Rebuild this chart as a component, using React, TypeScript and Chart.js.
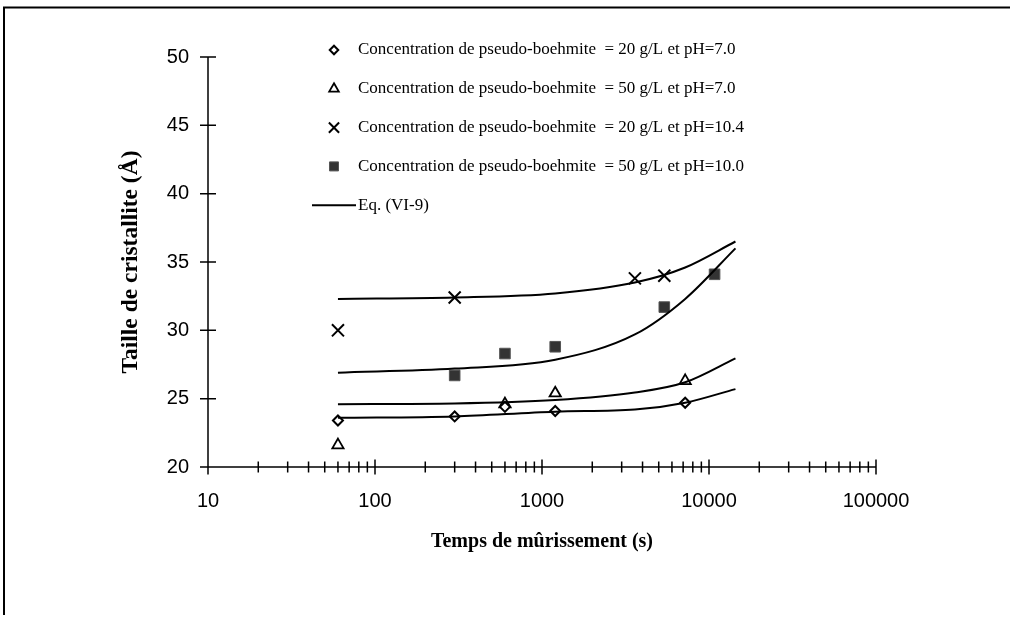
import React, { useEffect, useRef } from 'react';
import { Chart, registerables } from 'chart.js';
import { drawPoint } from 'chart.js/helpers';
Chart.register(...registerables);

const seriesLabels = [
  'Concentration de pseudo-boehmite  = 20 g/L et pH=7.0',
  'Concentration de pseudo-boehmite  = 50 g/L et pH=7.0',
  'Concentration de pseudo-boehmite  = 20 g/L et pH=10.4',
  'Concentration de pseudo-boehmite  = 50 g/L et pH=10.0',
];
const fitLabel = 'Eq. (VI-9)';
const xTitle = 'Temps de mûrissement (s)';
const yTitle = 'Taille de cristallite (Å)';

// measured points (time in s, size in Å)
const t20pH7 = [60, 300, 600, 1200, 7200];
const d20pH7 = [23.4, 23.7, 24.4, 24.1, 24.7];
const t50pH7 = [60, 600, 1200, 7200];
const d50pH7 = [21.6, 24.6, 25.4, 26.3];
const t20pH104 = [60, 300, 3600, 5400];
const d20pH104 = [30.0, 32.4, 33.8, 34.0];
const t50pH10 = [300, 600, 1200, 5400, 10800];
const d50pH10 = [26.7, 28.3, 28.8, 31.7, 34.1];

// Eq. (VI-9) curves
const fitTimes = [60, 300, 1200, 3600, 7200, 14400];
const fit20pH7 = [23.6, 23.7, 24.05, 24.2, 24.7, 25.7];
const fit50pH7 = [24.6, 24.65, 24.9, 25.45, 26.2, 27.95];
const fit20pH104 = [32.3, 32.4, 32.7, 33.5, 34.6, 36.5];
const fit50pH10 = [26.9, 27.2, 27.85, 29.7, 32.3, 36.0];

const xTickValues = [10, 100, 1000, 10000, 100000];
const xMinorMultipliers = [2, 3, 4, 5, 6, 7, 8, 9];
const yMin = 20;
const yMax = 50;
const yStep = 5;

const pts = (xs: number[], ys: number[]) => xs.map((x, i) => ({ x, y: ys[i] }));

const markerStyles = [
  { pointStyle: 'rectRot', radius: 5, borderWidth: 2, fill: '#ffffff', stroke: '#000000' },
  { pointStyle: 'triangle', radius: 6.5, borderWidth: 1.8, fill: '#ffffff', stroke: '#000000' },
  { pointStyle: 'crossRot', radius: 8.5, borderWidth: 2, fill: '#000000', stroke: '#000000' },
  { pointStyle: 'rect', radius: 7.5, borderWidth: 1, fill: '#333333', stroke: '#555555' },
];

const serif = '"Liberation Serif", "Times New Roman", serif';
const sans = '"Liberation Sans", Arial, sans-serif';

export default function App() {
  const ref = useRef<HTMLCanvasElement | null>(null);

  useEffect(() => {
    if (!ref.current) return;
    const markerData = [
      pts(t20pH7, d20pH7),
      pts(t50pH7, d50pH7),
      pts(t20pH104, d20pH104),
      pts(t50pH10, d50pH10),
    ];
    const fitData = [fit20pH7, fit50pH7, fit20pH104, fit50pH10];

    const datasets: any[] = [];
    fitData.forEach((f) => {
      datasets.push({
        label: fitLabel,
        data: pts(fitTimes, f),
        showLine: true,
        borderColor: '#000',
        borderWidth: 2,
        pointRadius: 0,
        cubicInterpolationMode: 'monotone',
        fill: false,
      });
    });
    markerData.forEach((d, i) => {
      const m = markerStyles[i];
      datasets.push({
        label: seriesLabels[i],
        data: d,
        showLine: false,
        pointStyle: m.pointStyle,
        pointRadius: m.radius,
        pointBorderWidth: m.borderWidth,
        pointBackgroundColor: m.fill,
        pointBorderColor: m.stroke,
      });
    });

    const framePlugin = {
      id: 'frame',
      beforeDraw(chart: any) {
        const ctx = chart.ctx;
        ctx.save();
        ctx.strokeStyle = '#000';
        ctx.lineWidth = 2;
        ctx.beginPath();
        ctx.moveTo(3, 7.5);
        ctx.lineTo(1010, 7.5);
        ctx.moveTo(4, 7);
        ctx.lineTo(4, 615);
        ctx.stroke();
        ctx.restore();
      },
    };

    const axesPlugin = {
      id: 'crossAxes',
      afterDraw(chart: any) {
        const ctx = chart.ctx;
        const xs = chart.scales.x;
        const ys = chart.scales.y;
        const { left, right, top, bottom } = chart.chartArea;
        ctx.save();
        ctx.strokeStyle = '#000';
        ctx.lineWidth = 1.5;
        ctx.beginPath();
        ctx.moveTo(left, top);
        ctx.lineTo(left, bottom);
        ctx.moveTo(left, bottom);
        ctx.lineTo(right, bottom);
        for (let v = yMin; v <= yMax; v += yStep) {
          const y = ys.getPixelForValue(v);
          ctx.moveTo(left - 8, y);
          ctx.lineTo(left + 8, y);
        }
        xTickValues.forEach((dec, idx) => {
          const xp = xs.getPixelForValue(dec);
          ctx.moveTo(xp, bottom - 7.5);
          ctx.lineTo(xp, bottom + 7.5);
          if (idx < xTickValues.length - 1) {
            xMinorMultipliers.forEach((k) => {
              const mx = xs.getPixelForValue(dec * k);
              ctx.moveTo(mx, bottom - 5.5);
              ctx.lineTo(mx, bottom + 5.5);
            });
          }
        });
        ctx.stroke();
        ctx.restore();
      },
    };

    const legendPlugin = {
      id: 'customLegend',
      afterDraw(chart: any) {
        const ctx = chart.ctx;
        ctx.save();
        const markerX = 334;
        const textX = 358;
        const y0 = 50;
        const dy = 38.8;
        ctx.font = `17px ${serif}`;
        ctx.textBaseline = 'middle';
        ctx.textAlign = 'left';
        seriesLabels.forEach((lab, i) => {
          const m = markerStyles[i];
          const y = y0 + i * dy;
          ctx.fillStyle = m.fill;
          ctx.strokeStyle = m.stroke;
          ctx.lineWidth = m.borderWidth;
          drawPoint(ctx, { pointStyle: m.pointStyle, radius: m.radius * 0.85, borderWidth: m.borderWidth, rotation: 0 } as any, markerX, y);
          ctx.fillStyle = '#000';
          ctx.fillText(lab, textX, y);
        });
        const ye = y0 + 4 * dy;
        ctx.strokeStyle = '#000';
        ctx.lineWidth = 2;
        ctx.beginPath();
        ctx.moveTo(312, ye);
        ctx.lineTo(356, ye);
        ctx.stroke();
        ctx.fillStyle = '#000';
        ctx.fillText(fitLabel, textX, ye);
        ctx.restore();
      },
    };

    const chart = new Chart(ref.current, {
      type: 'scatter',
      data: { datasets },
      options: {
        animation: false,
        responsive: false,
        layout: { padding: { left: 0, top: 57, right: 134, bottom: 0 } },
        plugins: { legend: { display: false }, tooltip: { enabled: false } },
        scales: {
          x: {
            type: 'logarithmic',
            position: 'bottom',
            min: 10,
            max: 100000,
            grid: { display: false },
            border: { display: false },
            afterBuildTicks: (scale: any) => {
              scale.ticks = xTickValues.map((v) => ({ value: v }));
            },
            afterFit: (scale: any) => {
              scale.height = 153;
            },
            ticks: {
              autoSkip: false,
              maxRotation: 0,
              color: '#000',
              padding: 14,
              font: { family: sans, size: 20 },
              callback: (v: any) => String(v),
            },
            title: {
              display: true,
              text: xTitle,
              color: '#000',
              font: { family: serif, size: 20, weight: 'bold' },
              padding: { top: 0, bottom: 66 },
            },
          },
          y: {
            type: 'linear',
            min: yMin,
            max: yMax,
            grid: { display: false },
            border: { display: false },
            afterFit: (scale: any) => {
              scale.width = 208;
            },
            ticks: {
              stepSize: yStep,
              color: '#000',
              padding: 11,
              font: { family: sans, size: 20 },
            },
            title: {
              display: true,
              text: yTitle,
              color: '#000',
              font: { family: serif, size: 23.5, weight: 'bold' },
              padding: { top: 117, bottom: 0 },
            },
          },
        },
      } as any,
      plugins: [framePlugin, axesPlugin, legendPlugin],
    });
    return () => chart.destroy();
  }, []);

  return (
    <div style={{ position: 'absolute', left: 0, top: 0, width: 1010, height: 620, background: '#fff' }}>
      <canvas ref={ref} width={1010} height={620} style={{ display: 'block' }} />
    </div>
  );
}
